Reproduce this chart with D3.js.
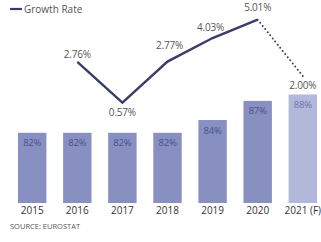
<!DOCTYPE html>
<meta charset="utf-8">
<style>
  body { margin: 0; background: #fff; }
  text { font-family: "Open Sans", sans-serif; }
</style>
<body>
<script src="https://cdn.jsdelivr.net/npm/d3@7/dist/d3.min.js"></script>
<script>

    var width = 321,
        height = 242;

    // data
    var years = ["2015", "2016", "2017", "2018", "2019", "2020", "2021 (F)"];
    var shares = [82, 82, 82, 82, 84, 87, 88];
    var growth = [null, 2.76, 0.57, 2.77, 4.03, 5.01, 2.00];
    var forecastYear = "2021 (F)";

    var svg = d3.select("body").append("svg")
            .attr("width", width)
            .attr("height", height);

    var x = d3.scaleBand()
            .domain(years)
            .range([18, 317])
            .paddingInner(0.37)
            .paddingOuter(0);

    // bar axis is cut off, bars do not start at zero
    var yBar = d3.scaleLinear()
            .domain([71, 88])
            .range([203, 94.5]);

    var yLine = d3.scaleLinear()
            .domain([0, 6])
            .range([113.4, 1.2]);

    var cx = function(d) { return x(d.year) + x.bandwidth() / 2; };

    var rows = years.map(function(y, i) {
        return {year: y, share: shares[i], growth: growth[i]};
    });

    // bars
    svg.selectAll("rect.bar")
            .data(rows)
            .enter().append("rect")
            .attr("class", "bar")
            .attr("x", function(d) { return x(d.year); })
            .attr("y", function(d) { return yBar(d.share); })
            .attr("width", x.bandwidth())
            .attr("height", function(d) { return yBar.range()[0] - yBar(d.share); })
            .attr("fill", function(d) { return d.year == forecastYear ? "#b2b8d9" : "#8790c1"; });

    svg.selectAll("text.share")
            .data(rows)
            .enter().append("text")
            .attr("class", "share")
            .attr("x", cx)
            .attr("y", function(d) { return yBar(d.share) + 13.5; })
            .attr("text-anchor", "middle")
            .attr("font-size", 9.5)
            .attr("letter-spacing", -0.2)
            .attr("fill", function(d) { return d.year == forecastYear ? "#6d74a8" : "#4a5290"; })
            .text(function(d) { return d.share + "%"; });

    // year axis
    var xAxis = d3.axisBottom(x).tickSize(0).tickPadding(4);
    var gx = svg.append("g")
            .attr("transform", "translate(0,203)")
            .call(xAxis);
    gx.select(".domain").remove();
    gx.selectAll("text")
            .attr("font-family", "Open Sans")
            .attr("font-size", 10)
            .attr("fill", "#333");

    // growth line, solid part then dotted forecast
    var pts = rows.filter(function(d) { return d.growth != null; });
    var solid = pts.filter(function(d) { return d.year != forecastYear; });
    var dotted = pts.slice(pts.length - 2);

    var line = d3.line()
            .x(cx)
            .y(function(d) { return yLine(d.growth); });

    svg.append("path")
            .datum(solid)
            .attr("d", line)
            .attr("fill", "none")
            .attr("stroke", "#3a3c6a")
            .attr("stroke-width", 2.4);

    svg.append("path")
            .datum(dotted)
            .attr("d", line)
            .attr("fill", "none")
            .attr("stroke", "#3a3c6a")
            .attr("stroke-width", 2)
            .attr("stroke-linecap", "round")
            .attr("stroke-dasharray", "0,4");

    // label offsets (above / below the point)
    var labelDy = {"2016": -4, "2017": 13, "2018": -13, "2019": -7, "2020": -9, "2021 (F)": 13};
    var labelDx = {"2018": 2, "2019": -2};

    svg.selectAll("text.growth")
            .data(pts)
            .enter().append("text")
            .attr("class", "growth")
            .attr("x", function(d) { return cx(d) + (labelDx[d.year] || 0); })
            .attr("y", function(d) { return yLine(d.growth) + labelDy[d.year]; })
            .attr("text-anchor", "middle")
            .attr("font-size", 10)
            .attr("letter-spacing", -0.2)
            .attr("fill", "#555")
            .text(function(d) { return d.growth.toFixed(2) + "%"; });

    // legend
    svg.append("line")
            .attr("x1", 10).attr("x2", 22)
            .attr("y1", 9).attr("y2", 9)
            .attr("stroke", "#3a3c6a")
            .attr("stroke-width", 2.2);
    svg.append("text")
            .attr("x", 24)
            .attr("y", 12.5)
            .attr("font-size", 10)
            .attr("fill", "#555")
            .text("Growth Rate");

    svg.append("text")
            .attr("x", 10)
            .attr("y", 229)
            .attr("font-size", 7.5)
            .attr("fill", "#555")
            .text("SOURCE: EUROSTAT");

</script>
